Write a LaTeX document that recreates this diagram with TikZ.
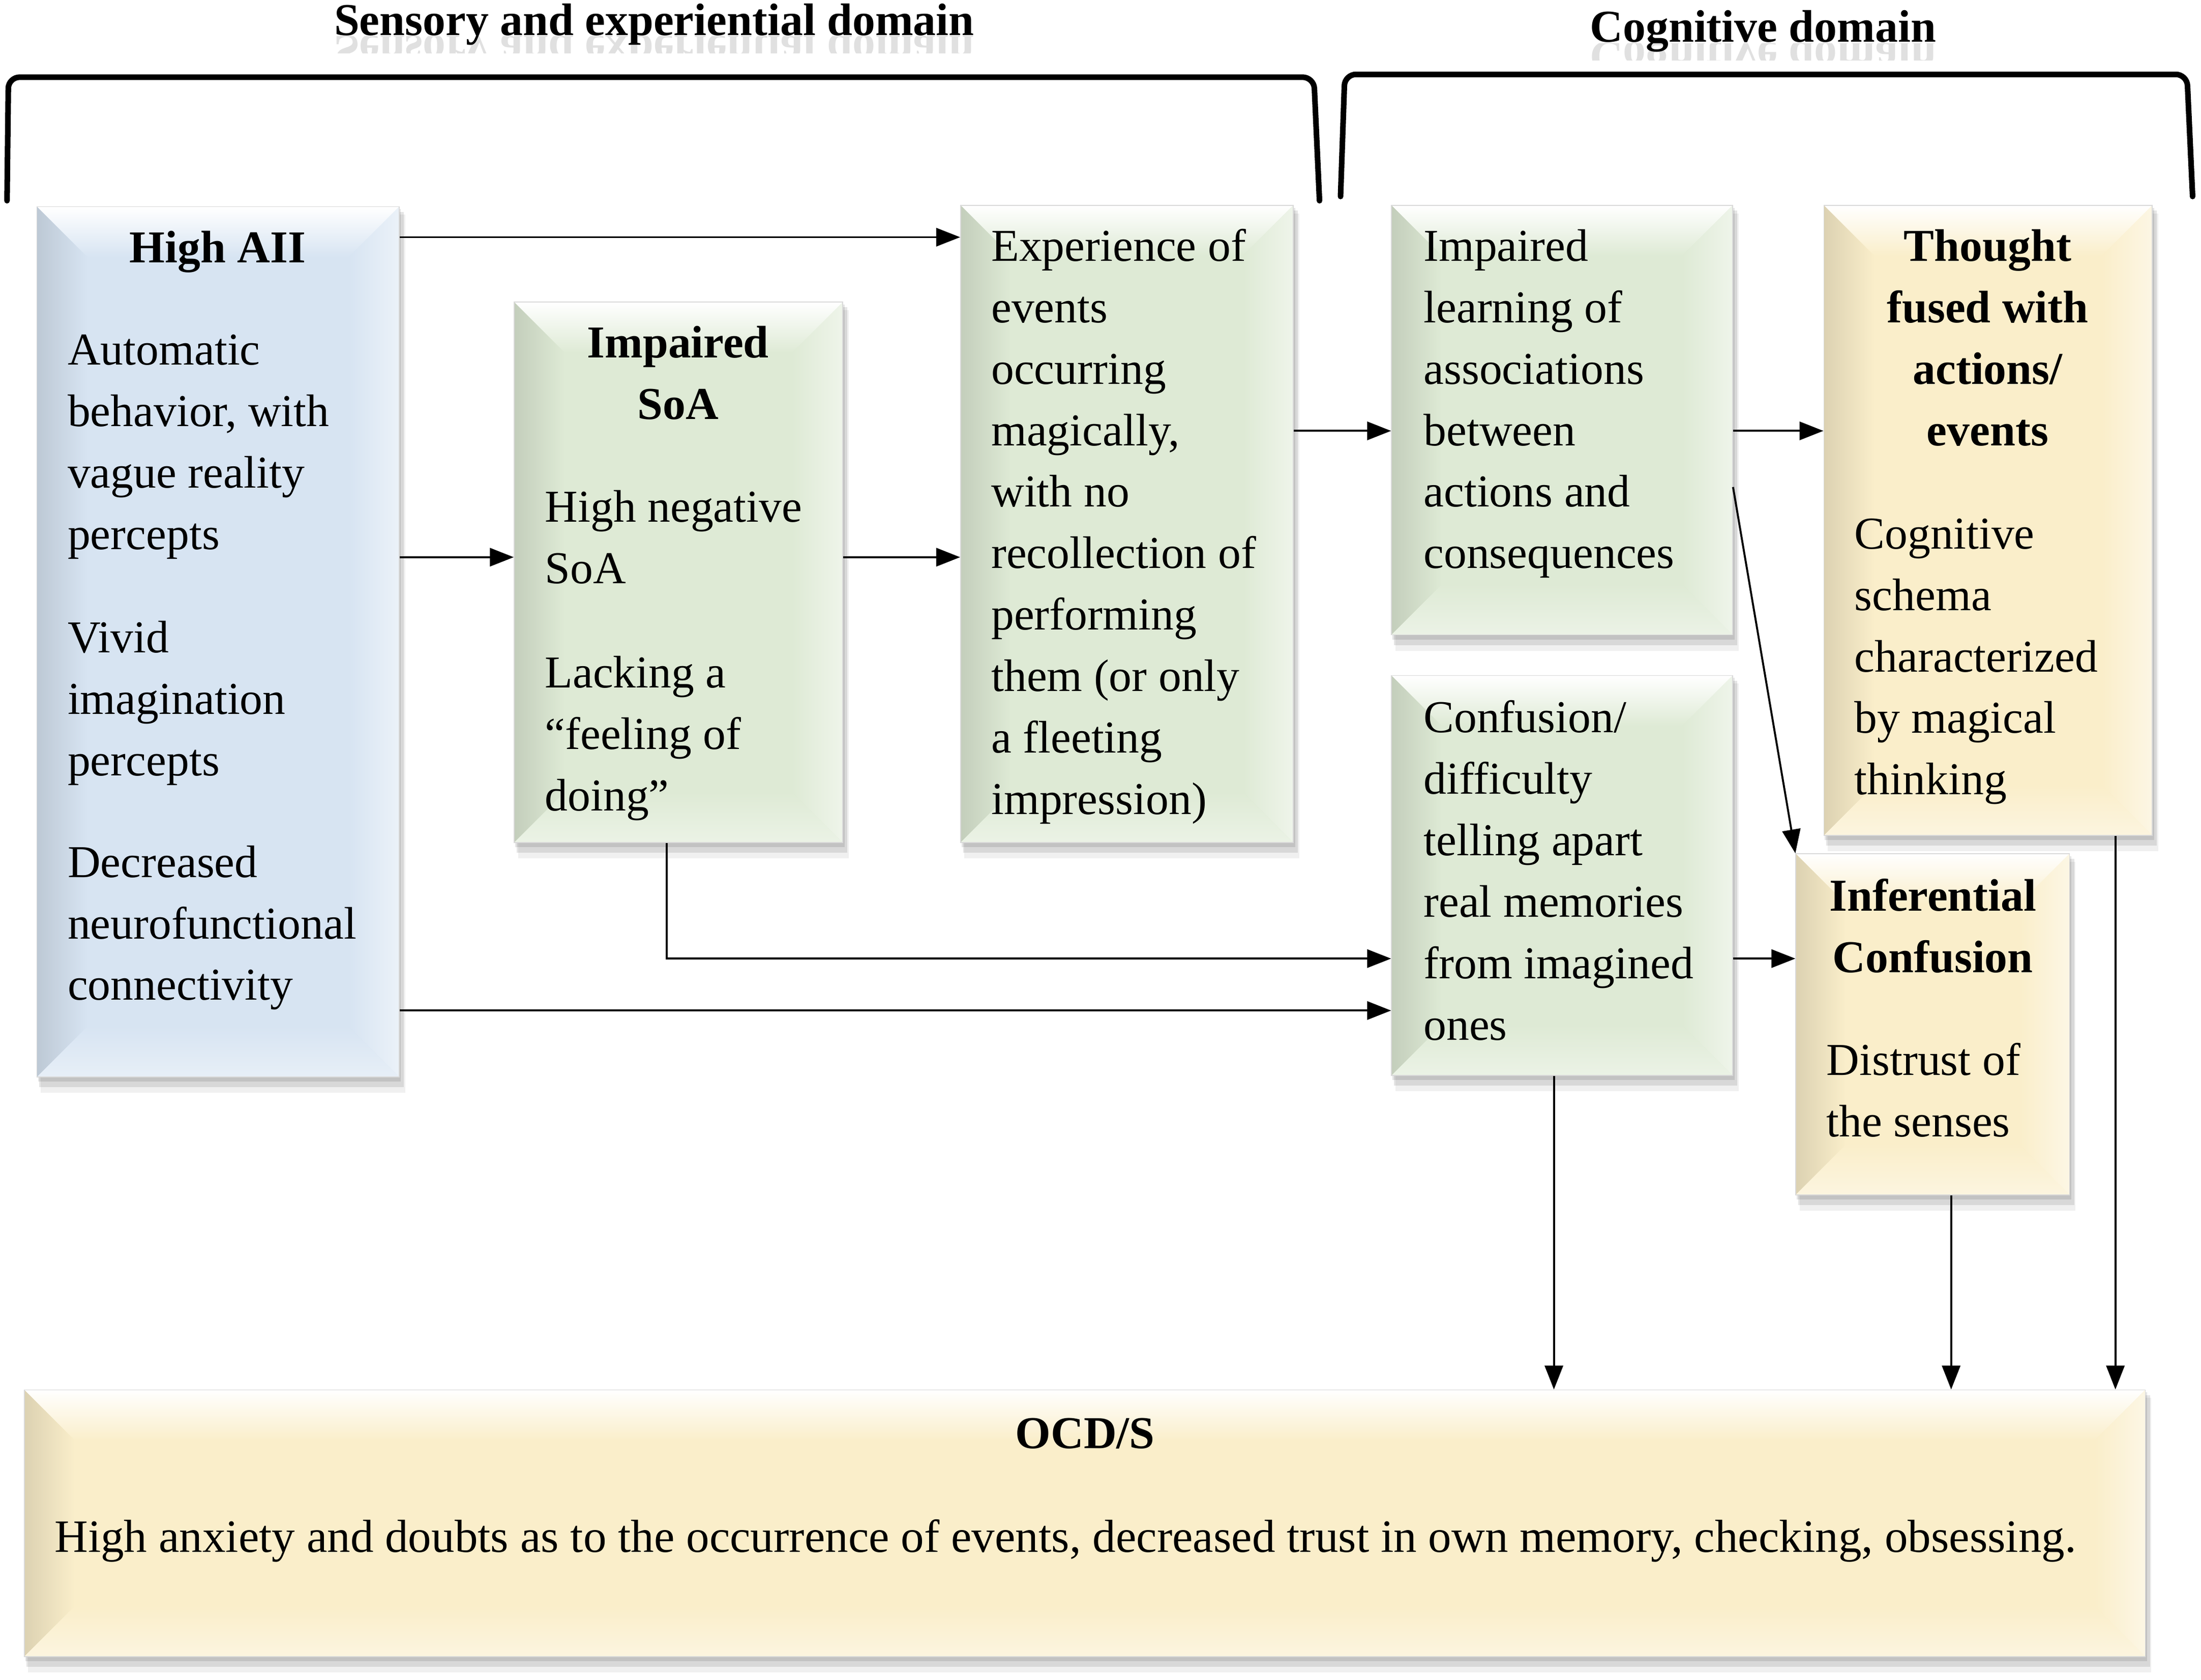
\documentclass[tikz,border=0pt]{standalone}
\usepackage{fontspec}
\setmainfont{Liberation Serif}
\usetikzlibrary{calc,arrows.meta,backgrounds}
\definecolor{cblue}{RGB}{215,228,242}
\definecolor{cgreen}{RGB}{222,234,213}
\definecolor{cyel}{RGB}{250,238,202}
\newcommand\ml[1]{\parbox[t]{8cm}{\raggedright\fontsize{32.5}{43.8}\selectfont #1}}
\newcommand\mc[1]{\parbox[t]{8cm}{\centering\fontsize{32.5}{43.8}\selectfont\bfseries #1}}
\newcommand\shad[1]{%
  \begin{pgfonlayer}{background}
    \fill[black,opacity=0.10] ([shift={(1pt,-2pt)}]#1.north west) rectangle ([shift={(1pt,-3pt)}]#1.south east);
    \fill[black,opacity=0.10] ([shift={(2pt,-4pt)}]#1.north west) rectangle ([shift={(3pt,-7pt)}]#1.south east);
    \fill[black,opacity=0.06] ([shift={(3pt,-6pt)}]#1.north west) rectangle ([shift={(4pt,-11pt)}]#1.south east);
  \end{pgfonlayer}}
\tikzset{
  bx/.style={draw=black!15, line width=0.6pt, fill=#1, inner sep=0pt, anchor=north west,
    path picture={
      \coordinate (ppnw) at (path picture bounding box.north west);
      \coordinate (ppne) at (path picture bounding box.north east);
      \coordinate (ppsw) at (path picture bounding box.south west);
      \coordinate (ppse) at (path picture bounding box.south east);
      \shade[top color=white, bottom color=#1] (ppnw) -- (ppne) -- ($(ppne)+(-36pt,-36pt)$) -- ($(ppnw)+(36pt,-36pt)$) -- cycle;
      \shade[left color=#1!88!black, right color=#1] (ppnw) -- ($(ppnw)+(36pt,-36pt)$) -- ($(ppsw)+(36pt,36pt)$) -- (ppsw) -- cycle;
      \shade[left color=#1, right color=#1!50!white] (ppne) -- ($(ppne)+(-36pt,-36pt)$) -- ($(ppse)+(-36pt,36pt)$) -- (ppse) -- cycle;
      \shade[top color=#1, bottom color=#1!60!white] (ppsw) -- ($(ppsw)+(36pt,36pt)$) -- ($(ppse)+(-36pt,36pt)$) -- (ppse) -- cycle;
    }},
  hd/.style={font=\fontsize{32.5}{43.8}\selectfont\bfseries, anchor=base, inner sep=0pt},
  bd/.style={anchor=base west, inner sep=0pt},
  txt/.style={font=\fontsize{33}{44}\selectfont, anchor=base, inner sep=0pt},
  arr/.style={line width=1.4pt, -{Triangle[length=17pt,width=13pt]}},
  brk/.style={line width=4pt, rounded corners=8pt, line cap=round},
}
\begin{document}
\begin{tikzpicture}[x=1pt,y=-1pt]
\useasboundingbox (0,0) rectangle (1568,1197);

% titles
\node[hd] (ttl1) at (466,25) {Sensory and experiential domain};
\node[hd] (ttl2) at (1256,30) {Cognitive domain};
\begin{scope}
  \clip (200,26) rectangle (730,38);
  \node[hd, yscale=-1, opacity=0.12] (ttl1r) at (466,25) {Sensory and experiential domain};
\end{scope}
\begin{scope}
  \clip (1100,31) rectangle (1420,43);
  \node[hd, yscale=-1, opacity=0.12] (ttl2r) at (1256,30) {Cognitive domain};
\end{scope}

% brackets
\coordinate (b1a) at (5,143);
\coordinate (b1b) at (6,55);
\coordinate (b1c) at (936,55);
\coordinate (b1d) at (940,143);
\draw[brk] (b1a) -- (b1b) -- (b1c) -- (b1d);
\coordinate (b2a) at (955,140);
\coordinate (b2b) at (958,53);
\coordinate (b2c) at (1558,53);
\coordinate (b2d) at (1562,140);
\draw[brk] (b2a) -- (b2b) -- (b2c) -- (b2d);

% boxes
\node[bx=cblue, minimum width=258pt, minimum height=620pt] (hai) at (26,147) {};
\node[bx=cgreen, minimum width=234pt, minimum height=385pt] (soa) at (366,215) {};
\node[bx=cgreen, minimum width=237pt, minimum height=454pt] (exp) at (684,146) {};
\node[bx=cgreen, minimum width=243pt, minimum height=306pt] (ilearn) at (991,146) {};
\node[bx=cyel, minimum width=234pt, minimum height=449pt] (tf) at (1299,146) {};
\node[bx=cgreen, minimum width=243pt, minimum height=285pt] (conf) at (991,481) {};
\node[bx=cyel, minimum width=195pt, minimum height=243pt] (inf) at (1279,608) {};
\node[bx=cyel, minimum width=1511pt, minimum height=190pt] (ocd) at (17,990) {};
\shad{hai}\shad{soa}\shad{exp}\shad{ilearn}\shad{tf}\shad{conf}\shad{inf}\shad{ocd}

% texts
\node[hd] (thai) at (155,187) {High AII};
\node[bd] (thai1) at (48,260) {\ml{Automatic\\behavior, with\\vague reality\\percepts}};
\node[bd] (thai2) at (48,465) {\ml{Vivid\\imagination\\percepts}};
\node[bd] (thai3) at (48,625) {\ml{Decreased\\neurofunctional\\connectivity}};

\node[hd] (tsoa) at (483,255) {\mc{Impaired\\SoA}};
\node[bd] (tsoa1) at (388,372) {\ml{High negative\\SoA}};
\node[bd] (tsoa2) at (388,490) {\ml{Lacking a\\“feeling of\\doing”}};

\node[bd] (texp) at (706,186) {\ml{Experience of\\events\\occurring\\magically,\\with no\\recollection of\\performing\\them (or only\\a fleeting\\impression)}};

\node[bd] (til) at (1014,186) {\ml{Impaired\\learning of\\associations\\between\\actions and\\consequences}};

\node[hd] (ttf) at (1416,186) {\mc{Thought\\fused with\\actions/\\events}};
\node[bd] (ttf1) at (1321,391) {\ml{Cognitive\\schema\\characterized\\by magical\\thinking}};

\node[bd] (tconf) at (1014,522) {\ml{Confusion/\\difficulty\\telling apart\\real memories\\from imagined\\ones}};

\node[hd] (tinf) at (1377,649) {\mc{Inferential\\Confusion}};
\node[bd] (tinf1) at (1301,766) {\ml{Distrust of\\the senses}};

\node[hd] (tocd) at (773,1032) {OCD/S};
\node[txt] (tocd1) at (759,1106) {High anxiety and doubts as to the occurrence of events, decreased trust in own memory, checking, obsessing.};

% helper levels
\coordinate (r169) at (0,169);
\coordinate (r307) at (0,307);
\coordinate (r347) at (0,347);
\coordinate (r397) at (0,397);
\coordinate (r683) at (0,683);
\coordinate (r720) at (0,720);
\coordinate (c475) at (475,0);
\coordinate (c1107) at (1107,0);
\coordinate (c1390) at (1390,0);
\coordinate (c1507) at (1507,0);

% connectors
\draw[arr] (hai.east |- r169) -- (exp.west |- r169);
\draw[arr] (hai.east |- r397) -- (soa.west |- r397);
\draw[arr] (soa.east |- r397) -- (exp.west |- r397);
\draw[arr] (exp.east |- r307) -- (ilearn.west |- r307);
\draw[arr] (ilearn.east |- r307) -- (tf.west |- r307);
\draw[arr] (ilearn.east |- r347) -- (inf.north west);
\draw[arr] (c475 |- soa.south) -- (c475 |- r683) -- (conf.west |- r683);
\draw[arr] (hai.east |- r720) -- (conf.west |- r720);
\draw[arr] (conf.east |- r683) -- (inf.west |- r683);
\draw[arr] (c1107 |- conf.south) -- (c1107 |- ocd.north);
\draw[arr] (c1390 |- inf.south) -- (c1390 |- ocd.north);
\draw[arr] (c1507 |- tf.south) -- (c1507 |- ocd.north);
\end{tikzpicture}
\end{document}
